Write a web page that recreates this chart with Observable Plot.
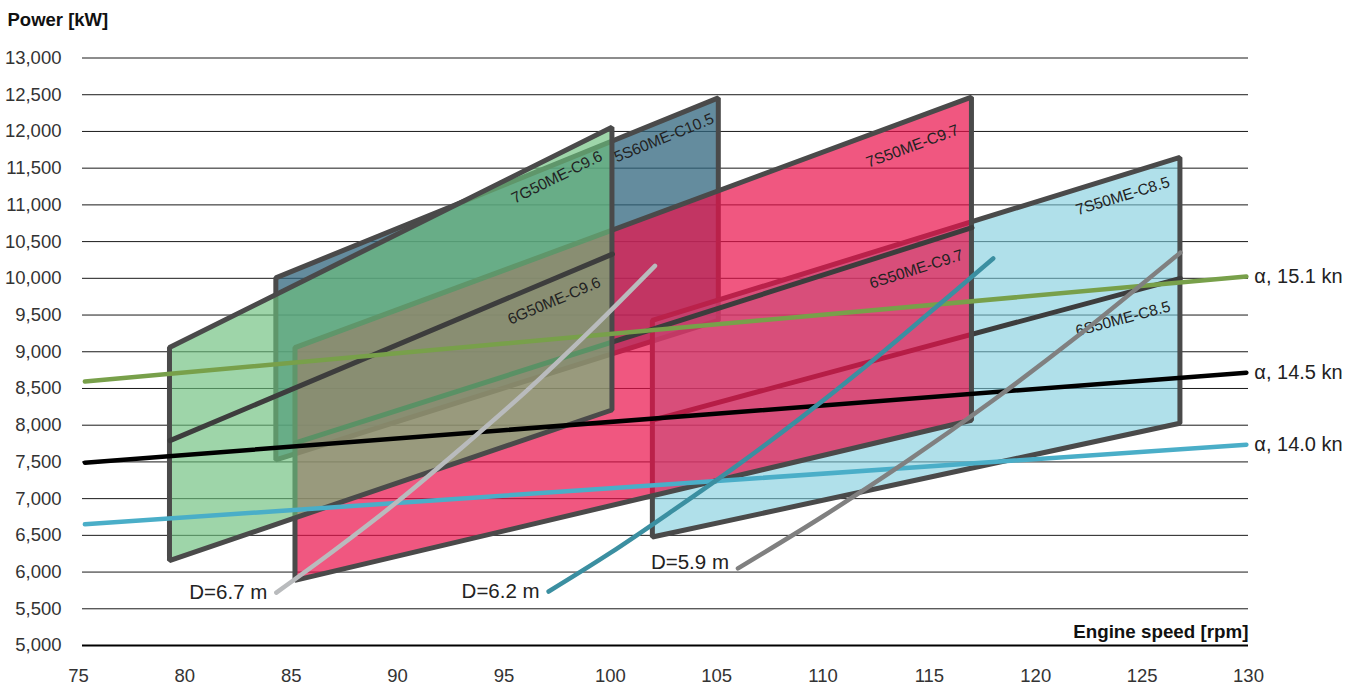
<!DOCTYPE html>
<html><head><meta charset="utf-8">
<script src="https://cdn.jsdelivr.net/npm/d3@7"></script>
<script src="https://cdn.jsdelivr.net/npm/@observablehq/plot@0.6"></script>
<style>html,body{margin:0;padding:0;background:#fff} svg{display:block}</style>
</head><body><div id="chart"></div>
<script>
// ---------------- data ----------------
const xTicks = [75, 80, 85, 90, 95, 100, 105, 110, 115, 120, 125, 130];
const yTicks = [5000, 5500, 6000, 6500, 7000, 7500, 8000, 8500, 9000, 9500, 10000, 10500, 11000, 11500, 12000, 12500, 13000];

// engine layout diagrams (parallelograms)
const layoutLabels      = ["7G50ME-C9.6", "5S60ME-C10.5", "7S50ME-C9.7", "7S50ME-C8.5"];
const layoutSpeedMin    = [79.3, 84.3, 85.2, 102.0];
const layoutSpeedMax    = [100.1, 105.1, 117.0, 126.8];
const layoutTopAtMin    = [9050, 10000, 9050, 9420];
const layoutTopAtMax    = [12050, 12450, 12460, 11640];
const layoutBottomAtMin = [6150, 7520, 5880, 6470];
const layoutBottomAtMax = [8200, 9420, 8060, 8020];
const subLayoutLabels   = ["6G50ME-C9.6", "", "6S50ME-C9.7", "6S50ME-C8.5"];
const subTopAtMin       = [7790, NaN, 7760, 8070];
const subTopAtMax       = [10330, NaN, 10690, 10000];

// ship speed lines
const shipLabels      = ["α, 15.1 kn", "α, 14.5 kn", "α, 14.0 kn"];
const shipLineSpeeds  = [75.3, 129.9];
const shipPowerStart  = [8595, 7490, 6650];
const shipPowerEnd    = [10025, 8715, 7735];

// propeller curves
const propellerLabels = ["D=6.7 m", "D=6.2 m", "D=5.9 m"];
const propSpeed67 = [84.3, 87, 90, 93, 96, 99, 102.1];
const propPower67 = [5720, 6290, 6960, 7690, 8450, 9270, 10170];
const propSpeed62 = [97.1, 100, 103, 106, 109, 112, 115, 118];
const propPower62 = [5735, 6260, 6850, 7460, 8110, 8800, 9530, 10270];
const propSpeed59 = [106.0, 110, 114, 118, 122, 126.8];
const propPower59 = [6050, 6760, 7520, 8340, 9220, 10350];

// ---------------- styles ----------------
const W = 1362, H = 686;
const M = {left: 78, right: 114, top: 57.5, bottom: 41};
const xDomain = [75, 130], yDomain = [5000, 13000];
const kx = (W - M.left - M.right) / (xDomain[1] - xDomain[0]);
const ky = (H - M.top - M.bottom) / (yDomain[1] - yDomain[0]);
const angleOf = (x1, y1, x2, y2) => -Math.atan(((y2 - y1) * ky) / ((x2 - x1) * kx)) * 180 / Math.PI;
const FONT = "'Liberation Sans', Helvetica, Arial, sans-serif";

const layoutFill = ["#6abf7b", "#30667e", "#ea104a", "#7bcbdc"];
const layoutOpacity = [0.65, 0.75, 0.7, 0.6];
const drawOrder = [1, 3, 2, 0];
const labelOffset = [[-14, 22], [-8, 14], [-16, 26], [-13, 18]];
const subLabelOffset = [[-15, 22], null, [-11, 21], [-12, 22]];
const shipColors = ["#78a04a", "#000000", "#4aaec8"];
const propColors = ["#b9bbbd", "#3b8fa1", "#808080"];
const propLabelDy = [0, 0, -6];
const propSeries = [[propSpeed67, propPower67], [propSpeed62, propPower62], [propSpeed59, propPower59]];

const marks = [];
// grid
marks.push(Plot.ruleY(yTicks.slice(1), {stroke: "#1a1a1a", strokeWidth: 1, insetLeft: 4}));
marks.push(Plot.ruleY([yTicks[0]], {stroke: "#000", strokeWidth: 2, insetLeft: 4}));

// layout polygons
for (const i of drawOrder) {
  const poly = [
    {x: layoutSpeedMin[i], y1: layoutBottomAtMin[i], y2: layoutTopAtMin[i]},
    {x: layoutSpeedMax[i], y1: layoutBottomAtMax[i], y2: layoutTopAtMax[i]}
  ];
  marks.push(Plot.areaY(poly, {x: "x", y1: "y1", y2: "y2", fill: layoutFill[i], fillOpacity: layoutOpacity[i],
    stroke: "#4a4a4a", strokeWidth: 5, strokeLinejoin: "miter"}));
  if (subLayoutLabels[i]) {
    marks.push(Plot.line([{x: layoutSpeedMin[i], y: subTopAtMin[i]}, {x: layoutSpeedMax[i], y: subTopAtMax[i]}],
      {x: "x", y: "y", stroke: "#3d3d3d", strokeWidth: 5}));
  }
}
// layout labels
for (let i = 0; i < layoutLabels.length; i++) {
  marks.push(Plot.text([{x: layoutSpeedMax[i], y: layoutTopAtMax[i], t: layoutLabels[i]}], {
    x: "x", y: "y", text: "t", textAnchor: "end", lineAnchor: "top",
    rotate: angleOf(layoutSpeedMin[i], layoutTopAtMin[i], layoutSpeedMax[i], layoutTopAtMax[i]),
    dx: labelOffset[i][0], dy: labelOffset[i][1], fontSize: 15.5, fill: "#222"}));
  if (subLayoutLabels[i]) {
    marks.push(Plot.text([{x: layoutSpeedMax[i], y: subTopAtMax[i], t: subLayoutLabels[i]}], {
      x: "x", y: "y", text: "t", textAnchor: "end", lineAnchor: "top",
      rotate: angleOf(layoutSpeedMin[i], subTopAtMin[i], layoutSpeedMax[i], subTopAtMax[i]),
      dx: subLabelOffset[i][0], dy: subLabelOffset[i][1], fontSize: 15.5, fill: "#222"}));
  }
}
// ship speed lines
for (let i = 0; i < shipLabels.length; i++) {
  const pts = [{x: shipLineSpeeds[0], y: shipPowerStart[i]}, {x: shipLineSpeeds[1], y: shipPowerEnd[i]}];
  marks.push(Plot.line(pts, {x: "x", y: "y", stroke: shipColors[i], strokeWidth: 4.5, strokeLinecap: "round"}));
  marks.push(Plot.text([{x: shipLineSpeeds[1], y: shipPowerEnd[i], t: shipLabels[i]}],
    {x: "x", y: "y", text: "t", textAnchor: "start", dx: 8, fontSize: 20, fill: "#222"}));
}
// propeller curves
for (let i = 0; i < propellerLabels.length; i++) {
  const [sp, pw] = propSeries[i];
  const pts = sp.map((s, j) => ({x: s, y: pw[j]}));
  marks.push(Plot.line(pts, {x: "x", y: "y", stroke: propColors[i], strokeWidth: 4.5, strokeLinecap: "round", curve: "catmull-rom"}));
  marks.push(Plot.text([{x: sp[0], y: pw[0], t: propellerLabels[i]}],
    {x: "x", y: "y", text: "t", textAnchor: "end", dx: -9, dy: propLabelDy[i], fontSize: 20.5, fill: "#222"}));
}
// axis titles
marks.push(Plot.text(["Power [kW]"], {frameAnchor: "top-left", textAnchor: "start", lineAnchor: "bottom",
  dx: -71, dy: -32.5, fontSize: 18.5, fontWeight: "bold", fill: "#111"}));
marks.push(Plot.text(["Engine speed [rpm]"], {frameAnchor: "bottom-right", textAnchor: "end", lineAnchor: "bottom",
  dy: -8, fontSize: 18.8, fontWeight: "bold", fill: "#111"}));

const chart = Plot.plot({
  width: W, height: H,
  marginLeft: M.left, marginRight: M.right, marginTop: M.top, marginBottom: M.bottom,
  style: {fontFamily: FONT, fontSize: "18.5px", color: "#333", background: "#fff", overflow: "visible"},
  x: {domain: xDomain, ticks: xTicks, tickSize: 0, tickPadding: 23, label: null},
  y: {domain: yDomain, ticks: yTicks, tickSize: 0, tickPadding: 17, tickFormat: d3.format(","), label: null},
  marks
});
document.getElementById("chart").appendChild(chart);
</script>
</body></html>
